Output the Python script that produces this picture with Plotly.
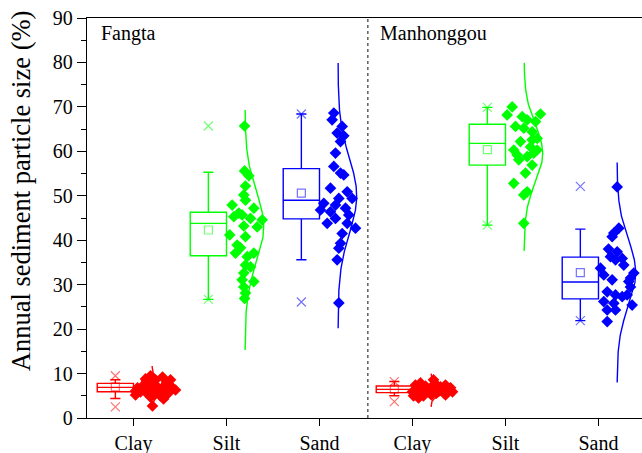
import numpy as np
import plotly.graph_objects as go

# ---------------- data ----------------
categories = ["Clay", "Silt", "Sand", "Clay", "Silt", "Sand"]
sites = ["Fangta", "Manhonggou"]
colors = ["#FF0000", "#00FF00", "#0000FF", "#FF0000", "#00FF00", "#0000FF"]

# box statistics per group: q1, median, q3, lower whisker, upper whisker, mean, min, max
q1 = [5.9, 36.5, 44.8, 5.7, 56.9, 26.8]
median = [6.9, 43.8, 49.0, 6.45, 61.8, 30.6]
q3 = [7.8, 46.3, 56.1, 7.2, 66.1, 36.2]
lower_whisker = [4.4, 26.7, 35.6, 5.0, 43.4, 21.9]
upper_whisker = [8.6, 55.3, 68.4, 8.2, 69.9, 42.5]
mean = [7.0, 42.3, 50.6, 6.5, 60.4, 32.7]
minimum = [2.5, 26.7, 26.1, 3.7, 43.4, 21.9]
maximum = [9.5, 65.7, 68.4, 8.2, 69.9, 52.1]

# normal distribution curve parameters: centre, sd, drawn range
curve_mu = [6.9, 43.0, 50.0, 6.4, 59.5, 32.7]
curve_sd = [1.4, 8.0, 8.5, 1.1, 6.5, 7.5]
curve_lo = [2.0, 15.3, 20.2, 2.5, 37.6, 8.0]
curve_hi = [11.7, 69.3, 79.9, 10.0, 79.9, 57.5]

# individual samples (values) and their horizontal jitter (fraction of category step)
clay_f = [9.5, 9.2, 8.6, 6.8, 5.2, 5.9, 7.7, 7.4, 6.3, 7.4, 6.8, 5.6, 7.2, 5.0, 2.7,
          4.3, 8.8, 8.6, 7.9, 5.9, 6.5, 7.2, 5.9, 8.3, 6.8, 5.2, 6.3, 6.1, 4.7, 5.9]
clay_f_jit = [0.183, 0.312, 0.398, 0.043, 0.022, 0.129, 0.161, 0.237, 0.269, 0.344, 0.419,
              0.376, 0.097, 0.290, 0.204, 0.323, 0.129, 0.237, 0.355, 0.075, 0.183, 0.398,
              0.258, 0.140, 0.312, 0.215, 0.452, 0.022, 0.183, 0.366]
silt_f = [65.7, 55.6, 54.5, 52.2, 50.2, 49.0, 47.9, 47.2, 46.1, 45.3, 45.7, 44.9, 44.6,
          43.0, 43.2, 41.2, 40.8, 38.9, 38.3, 37.1, 37.1, 36.3, 34.4, 34.0, 32.6, 31.1,
          30.7, 29.5, 28.1, 26.9]
silt_f_jit = [0.194, 0.194, 0.240, 0.204, 0.186, 0.204, 0.061, 0.294, 0.132, 0.079, 0.168,
              0.258, 0.384, 0.330, 0.186, 0.035, 0.204, 0.115, 0.151, 0.097, 0.294, 0.223,
              0.204, 0.258, 0.186, 0.168, 0.294, 0.186, 0.204, 0.194]
sand_f = [68.6, 67.1, 65.6, 64.1, 63.5, 62.2, 59.6, 56.6, 55.1, 54.7, 51.7, 50.9, 49.4,
          49.4, 48.3, 47.9, 46.8, 47.2, 46.4, 45.7, 43.8, 44.9, 42.7, 43.8, 41.5, 39.3,
          38.2, 35.6, 25.9]
sand_f_jit = [0.154, 0.136, 0.244, 0.190, 0.261, 0.226, 0.172, 0.154, 0.226, 0.261, 0.118,
              0.298, 0.351, 0.208, 0.046, 0.172, 0.011, 0.280, 0.118, 0.315, 0.083, 0.172,
              0.387, 0.298, 0.244, 0.226, 0.208, 0.190, 0.208]
clay_m = [5.9, 7.4, 7.9, 7.2, 4.5, 5.0, 6.8, 7.7, 7.0, 7.4, 6.3, 5.9, 5.6, 5.9, 5.9, 6.8,
          8.6, 6.3, 6.5, 6.5, 5.9, 5.2, 5.0, 5.2]
clay_m_jit = [0.000, 0.032, 0.086, 0.140, 0.065, 0.011, 0.194, 0.247, 0.301, 0.355, 0.387,
              0.333, 0.258, 0.172, 0.108, 0.409, 0.226, 0.280, 0.151, 0.054, 0.430, 0.355,
              0.118, 0.204]
silt_m = [70.0, 68.2, 67.8, 68.4, 67.1, 65.6, 66.7, 65.2, 64.4, 62.9, 62.2, 62.6, 60.3,
          59.6, 58.1, 58.8, 56.9, 55.1, 52.8, 50.9, 50.2, 43.8, 61.0, 59.2, 60.3]
silt_m_jit = [0.072, 0.018, 0.180, 0.376, 0.233, 0.108, 0.323, 0.197, 0.287, 0.341, 0.161,
              0.287, 0.089, 0.304, 0.143, 0.233, 0.287, 0.215, 0.089, 0.233, 0.197, 0.197,
              0.269, 0.126, 0.341]
sand_m = [52.0, 42.7, 41.6, 40.8, 37.4, 36.3, 35.9, 35.6, 34.4, 33.7, 32.6, 32.2, 31.1,
          30.7, 29.5, 28.4, 27.7, 27.3, 27.7, 26.2, 25.8, 25.4, 24.3, 24.3, 21.7, 38.0, 31.5]
sand_m_jit = [0.201, 0.219, 0.165, 0.147, 0.201, 0.129, 0.255, 0.183, 0.272, 0.022, 0.380,
              0.057, 0.147, 0.326, 0.344, 0.094, 0.183, 0.255, 0.308, 0.057, 0.165, 0.362,
              0.094, 0.183, 0.094, 0.108, 0.344]

samples = [clay_f, silt_f, sand_f, clay_m, silt_m, sand_m]
jitters = [clay_f_jit, silt_f_jit, sand_f_jit, clay_m_jit, silt_m_jit, sand_m_jit]

# ---------------- figure ----------------
FONT = "Liberation Serif"
BOX_OFF = -0.195
BOX_W = 0.39
CURVE_BASE = 0.2
CURVE_AMP = 0.2

def faded(hexcol, a):
    h = hexcol.lstrip("#")
    r, g, b = int(h[0:2], 16), int(h[2:4], 16), int(h[4:6], 16)
    return f"rgba({r},{g},{b},{a})"

fig = go.Figure()

for i in range(6):
    c = colors[i]
    fig.add_trace(go.Box(
        x=[i + BOX_OFF], q1=[q1[i]], median=[median[i]], q3=[q3[i]],
        lowerfence=[lower_whisker[i]], upperfence=[upper_whisker[i]],
        width=BOX_W, whiskerwidth=0.28, boxpoints=False,
        line=dict(color=c, width=1.4), fillcolor="rgba(0,0,0,0)",
        showlegend=False, hoverinfo="skip"))
    fig.add_trace(go.Scatter(
        x=[i + BOX_OFF], y=[mean[i]], mode="markers",
        marker=dict(symbol="square-open", size=8, color=faded(c, 0.55), line=dict(width=1.2)),
        showlegend=False, hoverinfo="skip"))
    fig.add_trace(go.Scatter(
        x=[i + BOX_OFF, i + BOX_OFF], y=[minimum[i], maximum[i]], mode="markers",
        marker=dict(symbol="x-thin-open", size=9, color=faded(c, 0.55),
                    line=dict(width=1.2, color=faded(c, 0.55))),
        showlegend=False, hoverinfo="skip"))
    yy = np.linspace(curve_lo[i], curve_hi[i], 200)
    xx = i + CURVE_BASE + CURVE_AMP * np.exp(-(yy - curve_mu[i]) ** 2 / (2 * curve_sd[i] ** 2))
    fig.add_trace(go.Scatter(
        x=xx, y=yy, mode="lines", line=dict(color=c, width=1.4),
        showlegend=False, hoverinfo="skip"))
    fig.add_trace(go.Scatter(
        x=[i + j for j in jitters[i]], y=samples[i], mode="markers",
        marker=dict(symbol="diamond", size=9, color=c, line=dict(width=0)),
        showlegend=False, hoverinfo="skip"))

fig.add_shape(type="line", x0=2.52, x1=2.52, y0=0, y1=90, xref="x", yref="y",
              line=dict(color="#333333", width=1.2, dash="dot"))

fig.add_annotation(x=-0.333, y=86.6, xref="x", yref="y", xshift=-4, text=sites[0], showarrow=False,
                   xanchor="left", yanchor="middle", font=dict(family=FONT, size=20, color="black"))
fig.add_annotation(x=2.656, y=86.6, xref="x", yref="y", xshift=-3, text=sites[1], showarrow=False,
                   xanchor="left", yanchor="middle", font=dict(family=FONT, size=20, color="black"))

fig.add_annotation(x=0, y=0.567, xref="paper", yref="paper", xshift=-66,
                   text="Annual sediment particle size (%)", textangle=-90, showarrow=False,
                   xanchor="center", yanchor="middle", font=dict(family=FONT, size=26.5, color="black"))

fig.update_layout(
    width=642, height=453,
    margin=dict(l=87, r=0, t=18, b=35, autoexpand=False),
    paper_bgcolor="white", plot_bgcolor="white",
    boxmode="overlay",
    font=dict(family=FONT, size=20, color="black"),
    xaxis=dict(
        range=[-0.5, 5.468], tickmode="array", tickvals=list(range(6)), ticktext=categories,
        showline=True, linecolor="black", linewidth=1.3, mirror=True,
        ticks="outside", ticklen=7, tickwidth=1.3, tickcolor="black", automargin=False,
        showgrid=False, zeroline=False, tickfont=dict(family=FONT, size=20)),
    yaxis=dict(
        range=[0, 90], tickmode="linear", tick0=0, dtick=10,
        showline=True, linecolor="black", linewidth=1.3, mirror=False, automargin=False,
        ticks="outside", ticklen=9, tickwidth=1.3, tickcolor="black",
        minor=dict(dtick=5, ticks="outside", ticklen=5, tickwidth=1.3, tickcolor="black", showgrid=False),
        showgrid=False, zeroline=False, tickfont=dict(family=FONT, size=20)),
)

fig.write_html("out.html", config={"displayModeBar": False},
               post_script="document.body.style.margin='0';document.body.style.overflow='hidden';")
